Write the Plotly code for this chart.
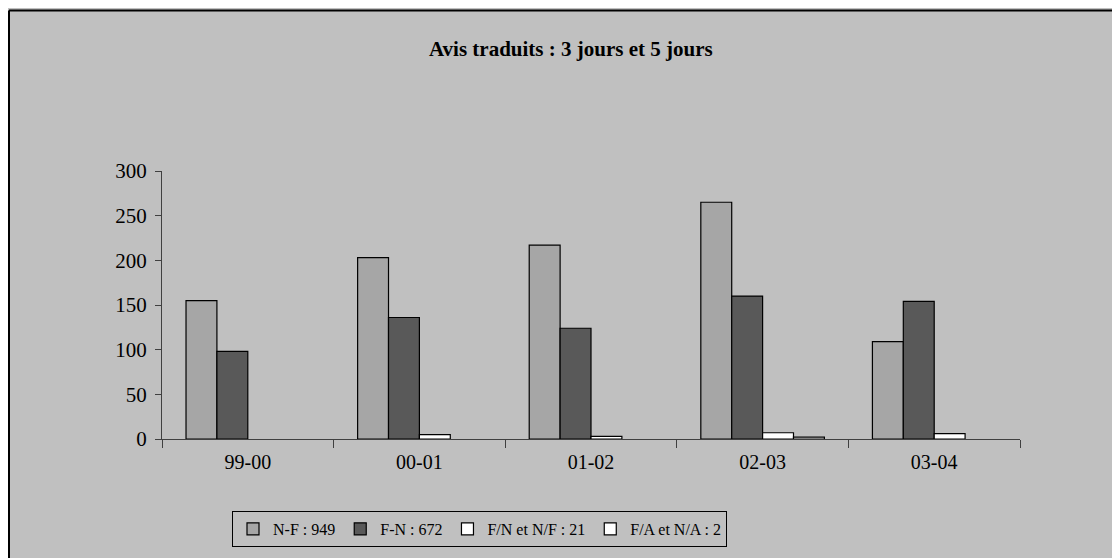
import plotly.graph_objects as go

categories = ["99-00", "00-01", "01-02", "02-03", "03-04"]
nf = [155, 203, 217, 265, 109]
fn = [98, 136, 124, 160, 154]
fn_nf = [0, 5, 3, 7, 6]
fa_na = [0, 0, 0, 2, 0]
series_names = ["N-F : 949", "F-N : 672", "F/N et N/F : 21", "F/A et N/A : 2"]
series_colors = ["#a6a6a6", "#595959", "#ffffff", "#ffffff"]
y_ticks = [0, 50, 100, 150, 200, 250, 300]

FONT = "Liberation Serif, Times New Roman, serif"
BG = "#c0c0c0"

fig = go.Figure()
for name, vals, col in zip(series_names, [nf, fn, fn_nf, fa_na], series_colors):
    fig.add_trace(go.Bar(
        x=categories, y=[v if v > 0 else None for v in vals], name=name,
        marker=dict(color=col, line=dict(color="#000000", width=1.2)),
    ))

# page has an 8px body margin: figure origin sits at (8, 8) on screen
W, H = 1112, 550
L, T, PW, PH = 154, 163, 858, 269
R = W - L - PW
B = H - T - PH

def px_x(x):  # screen x -> paper
    return (x - 8 - L) / PW

def px_y(y):  # screen y -> paper
    return (8 + T + PH - y) / PH

fig.update_layout(
    width=W, height=H,
    margin=dict(l=L, r=R, t=T, b=B, pad=0),
    paper_bgcolor=BG, plot_bgcolor=BG,
    barmode="group", bargap=0.28, bargroupgap=0,
    font=dict(family=FONT, color="#000000"),
    showlegend=True,
    legend=dict(
        orientation="h", x=px_x(232), y=px_y(511), xanchor="left", yanchor="top",
        bgcolor=BG, bordercolor="#000000", borderwidth=1,
        font=dict(family=FONT, size=16, color="#000000"),
        itemwidth=30, traceorder="normal",
    ),
    xaxis=dict(
        type="category", showgrid=False, showline=True, linecolor="#404040", linewidth=1,
        ticks="outside", ticklen=8, tickcolor="#404040", tickson="boundaries",
        tickfont=dict(family=FONT, size=20, color="#000000"), zeroline=False,
        ticklabelstandoff=5,
    ),
    yaxis=dict(
        range=[0, 300], tickvals=y_ticks, showgrid=False, showline=True,
        linecolor="#404040", linewidth=1, ticks="outside", ticklen=6, tickcolor="#404040",
        tickfont=dict(family=FONT, size=21, color="#000000"), zeroline=False,
        ticklabelstandoff=4,
    ),
    annotations=[dict(
        text="<b>Avis traduits : 3 jours et 5 jours</b>",
        xref="paper", yref="paper", x=px_x(571), y=px_y(49),
        xanchor="center", yanchor="middle", showarrow=False,
        font=dict(family=FONT, size=21, color="#000000"),
    )],
    shapes=[
        dict(type="line", xref="paper", yref="paper",
             x0=px_x(9), x1=px_x(1130), y0=px_y(10), y1=px_y(10),
             line=dict(color="#000000", width=2)),
        dict(type="line", xref="paper", yref="paper",
             x0=px_x(9), x1=px_x(9), y0=px_y(10), y1=px_y(570),
             line=dict(color="#000000", width=2)),
    ],
)

fig.write_html("out.html")
